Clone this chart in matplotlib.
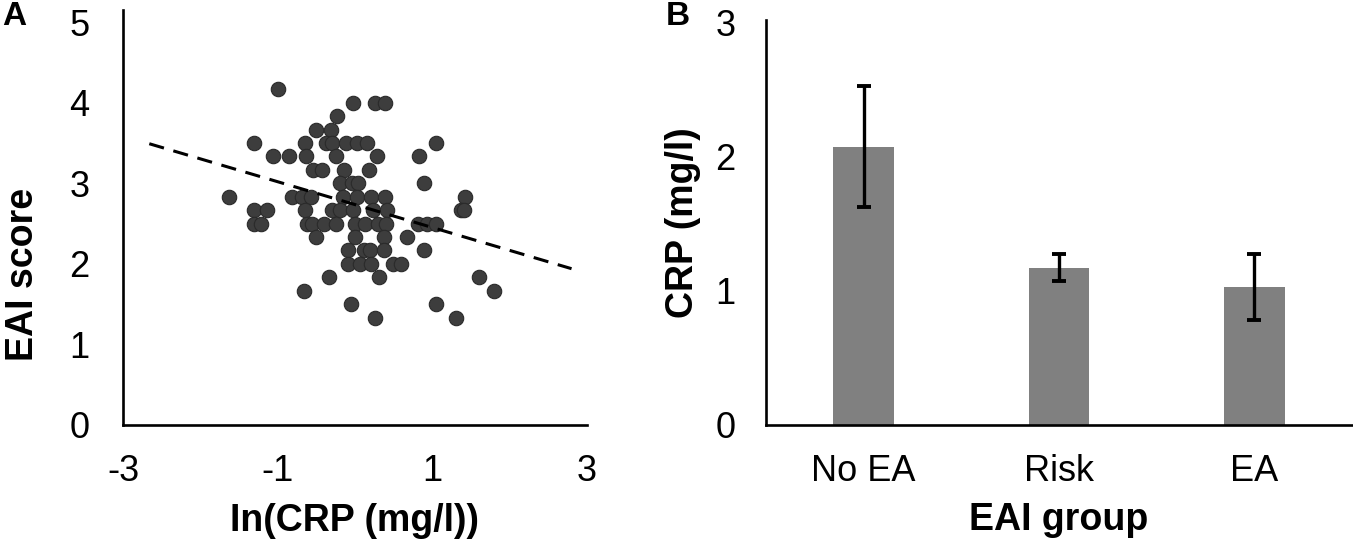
import matplotlib
matplotlib.use("Agg")
import matplotlib.pyplot as plt
import numpy as np

plt.rcParams['font.family'] = ['Liberation Sans', 'DejaVu Sans']

# ---- Panel A data: ln(CRP) vs EAI score ----
crp_ln = [
    -1.00,
    -0.02, 0.26, 0.39,
    -0.23,
    -0.51, -0.31,
    -1.31, -0.65, -0.37, -0.30, -0.12, 0.02, 0.16, 1.05,
    -1.06, -0.85, -0.63, -0.25, 0.29, 0.83,
    -0.54, -0.43, -0.14, 0.18,
    -0.20, -0.04, 0.04, 0.89,
    -1.63, -0.82, -0.69, -0.57, -0.15, 0.03, 0.21, 0.39, 1.42,
    -1.31, -1.14, -0.65, -0.30, -0.20, -0.03, 0.23, 0.42, 1.37, 1.41,
    -1.30, -1.21, -0.62, -0.55, -0.40, -0.24, 0.00, 0.13, 0.30, 0.40, 0.82, 0.93, 1.05,
    -0.50, 0.00, 0.37, 0.67,
    -0.09, 0.12, 0.19, 0.37, 0.89,
    -0.09, 0.07, 0.21, 0.49, 0.59,
    -0.34, 0.31, 1.60,
    -0.66, 1.80,
    -0.05, 1.05,
    0.26, 1.31,
]
eai_score = (
    [25/6]
    + [4.0] * 3
    + [23/6]
    + [22/6] * 2
    + [3.5] * 8
    + [20/6] * 6
    + [19/6] * 4
    + [3.0] * 4
    + [17/6] * 9
    + [16/6] * 10
    + [2.5] * 13
    + [14/6] * 4
    + [13/6] * 5
    + [2.0] * 5
    + [11/6] * 3
    + [10/6] * 2
    + [1.5] * 2
    + [8/6] * 2
)
trend_x_range = [-2.66, 2.80]
trend_slope = -0.284
trend_intercept = 2.735

xticks_A = [-3, -1, 1, 3]
yticks_A = [0, 1, 2, 3, 4, 5]

# ---- Panel B data: CRP by EAI group ----
groups = ["No EA", "Risk", "EA"]
crp_mean = [2.07, 1.17, 1.03]
crp_err = [0.45, 0.10, 0.245]
yticks_B = [0, 1, 2, 3]

W, H = 1353, 548
fig = plt.figure(figsize=(W / 100, H / 100), dpi=100)

axA = fig.add_axes([123 / W, 1 - 425 / H, 464 / W, 415 / H])
axB = fig.add_axes([766 / W, 1 - 425 / H, 586 / W, 405 / H])

tick_fs = 26
label_fs = 27

# Panel A
axA.scatter(crp_ln, eai_score, s=108, color='#3d3d3d', edgecolors='#2a2a2a',
            linewidths=0.8, zorder=3)
tx = np.array(trend_x_range)
axA.plot(tx, trend_intercept + trend_slope * tx, color='black', lw=2.2,
         linestyle=(0, (5, 3.2)), zorder=4)
axA.set_xlim(-3, 3)
axA.set_ylim(0, 5.15)
axA.set_xticks(xticks_A)
axA.set_xticklabels([str(v) for v in xticks_A])
axA.set_yticks(yticks_A)
axA.set_xlabel("In(CRP (mg/l))", fontsize=label_fs, fontweight='bold')
axA.set_ylabel("EAI score", fontsize=label_fs, fontweight='bold')
axA.xaxis.set_label_coords(0.5, -0.187)
axA.yaxis.set_label_coords(-0.177, 0.364)
axA.tick_params(axis='x', length=0, pad=21, labelsize=tick_fs)
axA.tick_params(axis='y', length=0, pad=24, labelsize=tick_fs)

# Panel B
xpos = np.arange(len(groups))
axB.bar(xpos, crp_mean, width=0.31, color='#808080', zorder=2)
axB.errorbar(xpos, crp_mean, yerr=crp_err, fmt='none', ecolor='black',
             elinewidth=2.4, capsize=4.8, capthick=2.8, zorder=3)
axB.set_xlim(-0.5, 2.5)
axB.set_ylim(0, 3.015)
axB.set_xticks(xpos)
axB.set_xticklabels(groups)
axB.set_yticks(yticks_B)
axB.set_xlabel("EAI group", fontsize=label_fs, fontweight='bold')
axB.set_ylabel("CRP (mg/l)", fontsize=label_fs, fontweight='bold')
axB.xaxis.set_label_coords(0.5, -0.191)
axB.yaxis.set_label_coords(-0.111, 0.5)
axB.tick_params(axis='x', length=0, pad=21, labelsize=tick_fs)
axB.tick_params(axis='y', length=0, pad=22, labelsize=tick_fs)

for ax in (axA, axB):
    for side in ('top', 'right'):
        ax.spines[side].set_visible(False)
    for side in ('left', 'bottom'):
        ax.spines[side].set_linewidth(1.9)
        ax.spines[side].set_color('black')
        ax.spines[side].set_capstyle('projecting')

fig.text(2 / W, 1 - 1 / H, "A", fontsize=24, fontweight='bold', va='top', ha='left')
fig.text(666 / W, 1 - 1 / H, "B", fontsize=24, fontweight='bold', va='top', ha='left')

fig.savefig("out.png", dpi=100, facecolor='white')
